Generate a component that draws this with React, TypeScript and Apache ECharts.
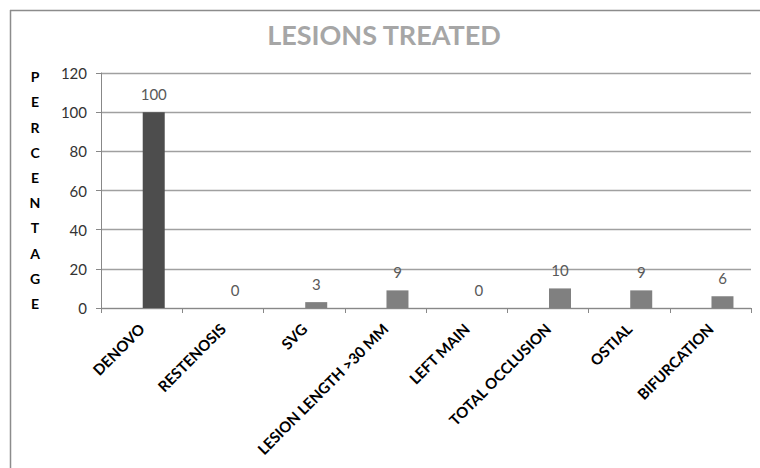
import React, { useEffect, useRef } from "react";
import * as echarts from "echarts";

const categories = [
  "DENOVO",
  "RESTENOSIS",
  "SVG",
  "LESION LENGTH >30 MM",
  "LEFT MAIN",
  "TOTAL OCCLUSION",
  "OSTIAL",
  "BIFURCATION",
];
const percentages = [100, 0, 3, 9, 0, 10, 9, 6];
const barColors = ["#4d4d4d", "#808080", "#808080", "#808080", "#808080", "#808080", "#808080", "#808080"];
const yAxisLetters = ["P", "E", "R", "C", "E", "N", "T", "A", "G", "E"];

const FONT = "Lato, 'Open Sans', sans-serif";

export default function App() {
  const ref = useRef<HTMLDivElement>(null);

  useEffect(() => {
    if (!ref.current) return;
    const chart = echarts.init(ref.current, undefined, { renderer: "svg" });
    chart.setOption({
      animation: false,
      backgroundColor: "#ffffff",
      title: {
        text: "LESIONS TREATED",
        left: 379,
        textAlign: "center",
        top: 16,
        textStyle: {
          color: "#a6a6a6",
          fontSize: 27,
          fontWeight: "bold",
          fontFamily: FONT,
        },
      },
      grid: { left: 101, right: 9, top: 73, bottom: 160, containLabel: false },
      xAxis: {
        type: "category",
        data: categories,
        axisLine: { show: true, lineStyle: { color: "#888888", width: 1 } },
        axisTick: { show: true, alignWithLabel: false, length: 5, lineStyle: { color: "#888888" } },
        axisLabel: {
          interval: 0,
          rotate: 45,
          margin: 18,
          color: "#000000",
          fontSize: 15,
          fontWeight: "bold",
          fontFamily: FONT,
        },
      },
      yAxis: {
        type: "value",
        min: 0,
        max: 120,
        interval: 20,
        axisLine: { show: true, lineStyle: { color: "#888888", width: 1 } },
        axisTick: { show: true, length: 5, lineStyle: { color: "#888888" } },
        splitLine: { show: true, lineStyle: { color: "#a0a0a0", width: 1.3 } },
        axisLabel: {
          margin: 14,
          color: "#333333",
          fontSize: 15,
          fontFamily: FONT,
        },
      },
      series: [
        {
          // empty slot on the left of each category, so the drawn bars sit right of centre
          type: "bar",
          name: "spacer",
          barWidth: 22,
          barGap: "10%",
          data: categories.map(() => "-"),
          silent: true,
        },
        {
          type: "bar",
          name: "Percentage",
          barWidth: 22,
          barGap: "10%",
          data: percentages.map((v, i) => ({ value: v, itemStyle: { color: barColors[i] } })),
          label: {
            show: true,
            position: "top",
            distance: 11,
            color: "#595959",
            fontSize: 15,
            fontFamily: FONT,
          },
        },
      ],
      graphic: [
        {
          type: "line",
          shape: { x1: 10, y1: 10.5, x2: 760, y2: 10.5 },
          style: { stroke: "#8c8c8c", lineWidth: 1.5 },
        },
        {
          type: "line",
          shape: { x1: 10.5, y1: 10, x2: 10.5, y2: 468 },
          style: { stroke: "#8c8c8c", lineWidth: 1.5 },
        },
        {
          type: "text",
          x: 35,
          y: 64,
          style: {
            text: yAxisLetters.join("\n"),
            align: "center",
            lineHeight: 25.2,
            fill: "#000000",
            font: `bold 14px ${FONT}`,
          },
        },
      ],
    });
    return () => chart.dispose();
  }, []);

  return (
    <div
      ref={ref}
      style={{ position: "fixed", left: 0, top: 0, width: 760, height: 468 }}
    />
  );
}
